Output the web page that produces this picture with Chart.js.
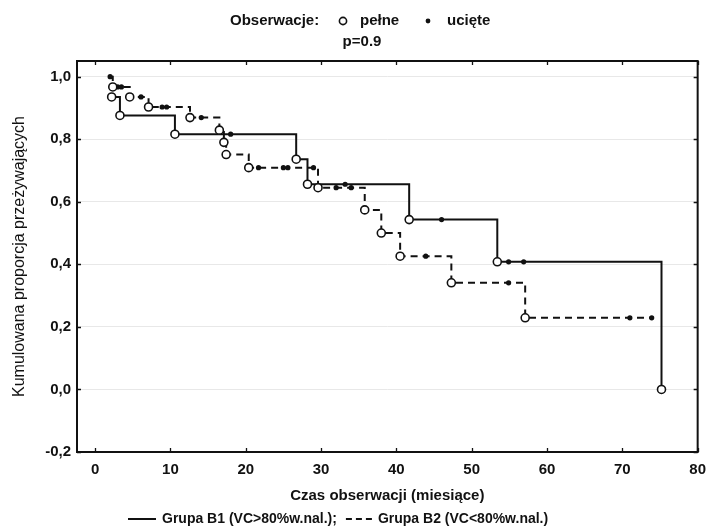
<!DOCTYPE html>
<html>
<head>
<meta charset="utf-8">
<script src="https://cdn.jsdelivr.net/npm/chart.js@4.4.1/dist/chart.umd.min.js"></script>
<style>
  html, body { margin: 0; padding: 0; background: #fff; }
</style>
</head>
<body>
<canvas id="km" width="715" height="531"></canvas>
<script>
// Grupa B1 - zdarzenia (obserwacje pełne): czas w miesiącach i proporcja przeżywających
var b1Czas  = [2.2, 3.3, 10.6, 26.7, 28.2, 41.7, 53.4, 75.2];
var b1Przez = [0.935, 0.876, 0.816, 0.736, 0.656, 0.543, 0.408, 0.0];
// Grupa B1 - obserwacje ucięte
var b1Uciete = [18.0, 33.2, 46.0, 54.9, 56.9];

// Grupa B2
var b2Czas  = [2.35, 4.6, 7.1, 12.6, 16.5, 17.1, 17.4, 20.4, 29.6, 35.8, 38.0, 40.5, 47.3, 57.1];
var b2Przez = [0.967, 0.935, 0.903, 0.869, 0.829, 0.790, 0.751, 0.709, 0.645, 0.574, 0.500, 0.426, 0.341, 0.229];
var b2Uciete = [2.0, 3.0, 3.5, 6.1, 8.9, 9.5, 14.1, 21.7, 25.0, 25.6, 29.0, 32.0, 34.0, 43.9, 54.9, 71.0, 73.9];

var xTicks = [0, 10, 20, 30, 40, 50, 60, 70, 80];
var yTicks = [-0.2, 0.0, 0.2, 0.4, 0.6, 0.8, 1.0];

var FONT = '"Liberation Sans", Arial, sans-serif';
var CZARNY = '#111';

// poziom krzywej K-M w chwili t (ostatnie zdarzenie przed t)
function poziom(czasy, przez, t) {
  var p = 1.0;
  for (var i = 0; i < czasy.length; i++) {
    if (czasy[i] <= t) p = przez[i];
  }
  return p;
}

function punkty(czasy, przez) {
  return czasy.map(function(t, i) { return {x: t, y: przez[i]}; });
}

function ucietePunkty(czasy, przez, uciete) {
  return uciete.map(function(t) { return {x: t, y: poziom(czasy, przez, t)}; });
}

function krzywa(czasy, przez, uciete) {
  var pts = punkty(czasy, przez).concat(ucietePunkty(czasy, przez, uciete));
  pts.sort(function(a, b) { return a.x - b.x; });
  return pts;
}

// ramka, kreski podziałki do środka i obie legendy
var ramka = {
  id: 'ramka',
  afterDraw: function(chart) {
    var ctx = chart.ctx;
    var a = chart.chartArea;
    var sx = chart.scales.x, sy = chart.scales.y;
    ctx.save();
    ctx.strokeStyle = CZARNY;
    ctx.lineWidth = 2;
    ctx.strokeRect(a.left, a.top, a.right - a.left, a.bottom - a.top);

    ctx.lineWidth = 1.3;
    ctx.beginPath();
    xTicks.forEach(function(v) {
      var px = Math.round(sx.getPixelForValue(v)) + 0.5;
      ctx.moveTo(px, a.bottom); ctx.lineTo(px, a.bottom - 4);
      ctx.moveTo(px, a.top); ctx.lineTo(px, a.top + 4);
    });
    yTicks.forEach(function(v) {
      var py = Math.round(sy.getPixelForValue(v)) + 0.5;
      ctx.moveTo(a.left, py); ctx.lineTo(a.left + 4, py);
      ctx.moveTo(a.right, py); ctx.lineTo(a.right - 4, py);
    });
    ctx.stroke();

    // legenda u góry
    ctx.fillStyle = CZARNY;
    ctx.font = 'bold 15px ' + FONT;
    ctx.textBaseline = 'middle';
    ctx.textAlign = 'left';
    ctx.fillText('Obserwacje:', 230, 21);
    ctx.beginPath();
    ctx.arc(343, 21, 3.6, 0, Math.PI * 2);
    ctx.fillStyle = '#fff';
    ctx.fill();
    ctx.lineWidth = 1.6;
    ctx.stroke();
    ctx.fillStyle = CZARNY;
    ctx.fillText('pełne', 360, 21);
    ctx.beginPath();
    ctx.arc(428, 21, 2.4, 0, Math.PI * 2);
    ctx.fill();
    ctx.fillText('ucięte', 447, 21);
    ctx.textAlign = 'center';
    ctx.fillText('p=0.9', 362, 42);

    // legenda na dole
    var y = 519, x = 128;
    ctx.font = 'bold 14px ' + FONT;
    ctx.textAlign = 'left';
    ctx.lineWidth = 2;
    ctx.beginPath();
    ctx.moveTo(x, y); ctx.lineTo(x + 28, y);
    ctx.stroke();
    x += 34;
    var t1 = 'Grupa B1 (VC>80%w.nal.);';
    ctx.fillText(t1, x, y);
    x += ctx.measureText(t1).width + 9;
    ctx.setLineDash([6, 4]);
    ctx.beginPath();
    ctx.moveTo(x, y); ctx.lineTo(x + 26, y);
    ctx.stroke();
    ctx.setLineDash([]);
    x += 32;
    ctx.fillText('Grupa B2 (VC<80%w.nal.)', x, y);
    ctx.restore();
  }
};

var linia = {
  showLine: true,
  stepped: true,
  borderColor: CZARNY,
  borderWidth: 2,
  pointRadius: 0,
  fill: false
};

var pelne = {
  showLine: false,
  pointStyle: 'circle',
  pointRadius: 4,
  pointBackgroundColor: '#fff',
  pointBorderColor: CZARNY,
  pointBorderWidth: 1.6
};

var uciete = {
  showLine: false,
  pointStyle: 'circle',
  pointRadius: 2.6,
  pointBackgroundColor: CZARNY,
  pointBorderColor: CZARNY,
  pointBorderWidth: 0
};

new Chart(document.getElementById('km'), {
  type: 'scatter',
  data: {
    datasets: [
      Object.assign({label: 'Grupa B1', data: krzywa(b1Czas, b1Przez, b1Uciete), order: 10}, linia),
      Object.assign({label: 'Grupa B2', data: krzywa(b2Czas, b2Przez, b2Uciete), order: 10, borderDash: [7, 5]}, linia),
      Object.assign({label: 'B1 ucięte', data: ucietePunkty(b1Czas, b1Przez, b1Uciete), order: 5}, uciete),
      Object.assign({label: 'B2 ucięte', data: ucietePunkty(b2Czas, b2Przez, b2Uciete), order: 5}, uciete),
      Object.assign({label: 'B1 pełne', data: punkty(b1Czas, b1Przez), order: 1}, pelne),
      Object.assign({label: 'B2 pełne', data: punkty(b2Czas, b2Przez), order: 1}, pelne)
    ]
  },
  options: {
    responsive: false,
    devicePixelRatio: 1,
    animation: false,
    events: [],
    layout: { padding: { top: 61, right: 8, left: 0, bottom: 0 } },
    plugins: {
      legend: { display: false },
      tooltip: { enabled: false }
    },
    scales: {
      x: {
        type: 'linear',
        min: -2.4,
        max: 80,
        afterBuildTicks: function(scale) {
          scale.ticks = xTicks.map(function(v) { return {value: v}; });
        },
        afterFit: function(scale) { scale.height = 79; },
        grid: { display: false, drawTicks: false },
        border: { display: false },
        ticks: {
          color: CZARNY,
          padding: 9,
          maxRotation: 0,
          font: { family: FONT, size: 15, weight: 'bold' }
        },
        title: {
          display: true,
          text: 'Czas obserwacji (miesiące)',
          color: CZARNY,
          padding: { top: 0, bottom: 26 },
          font: { family: FONT, size: 15, weight: 'bold' }
        }
      },
      y: {
        type: 'linear',
        min: -0.2,
        max: 1.05,
        afterBuildTicks: function(scale) {
          scale.ticks = yTicks.map(function(v) { return {value: v}; });
        },
        afterFit: function(scale) { scale.width = 77; },
        grid: { color: '#e8e8e8', lineWidth: 1, drawTicks: false },
        border: { display: false },
        ticks: {
          color: CZARNY,
          padding: 6,
          font: { family: FONT, size: 15, weight: 'bold' },
          callback: function(v) { return v.toFixed(1).replace('.', ','); }
        },
        title: {
          display: true,
          text: 'Kumulowana proporcja przeżywających',
          color: CZARNY,
          padding: { top: 10, bottom: 0 },
          font: { family: FONT, size: 16, weight: 'normal' }
        }
      }
    }
  },
  plugins: [ramka]
});
</script>
</body>
</html>
